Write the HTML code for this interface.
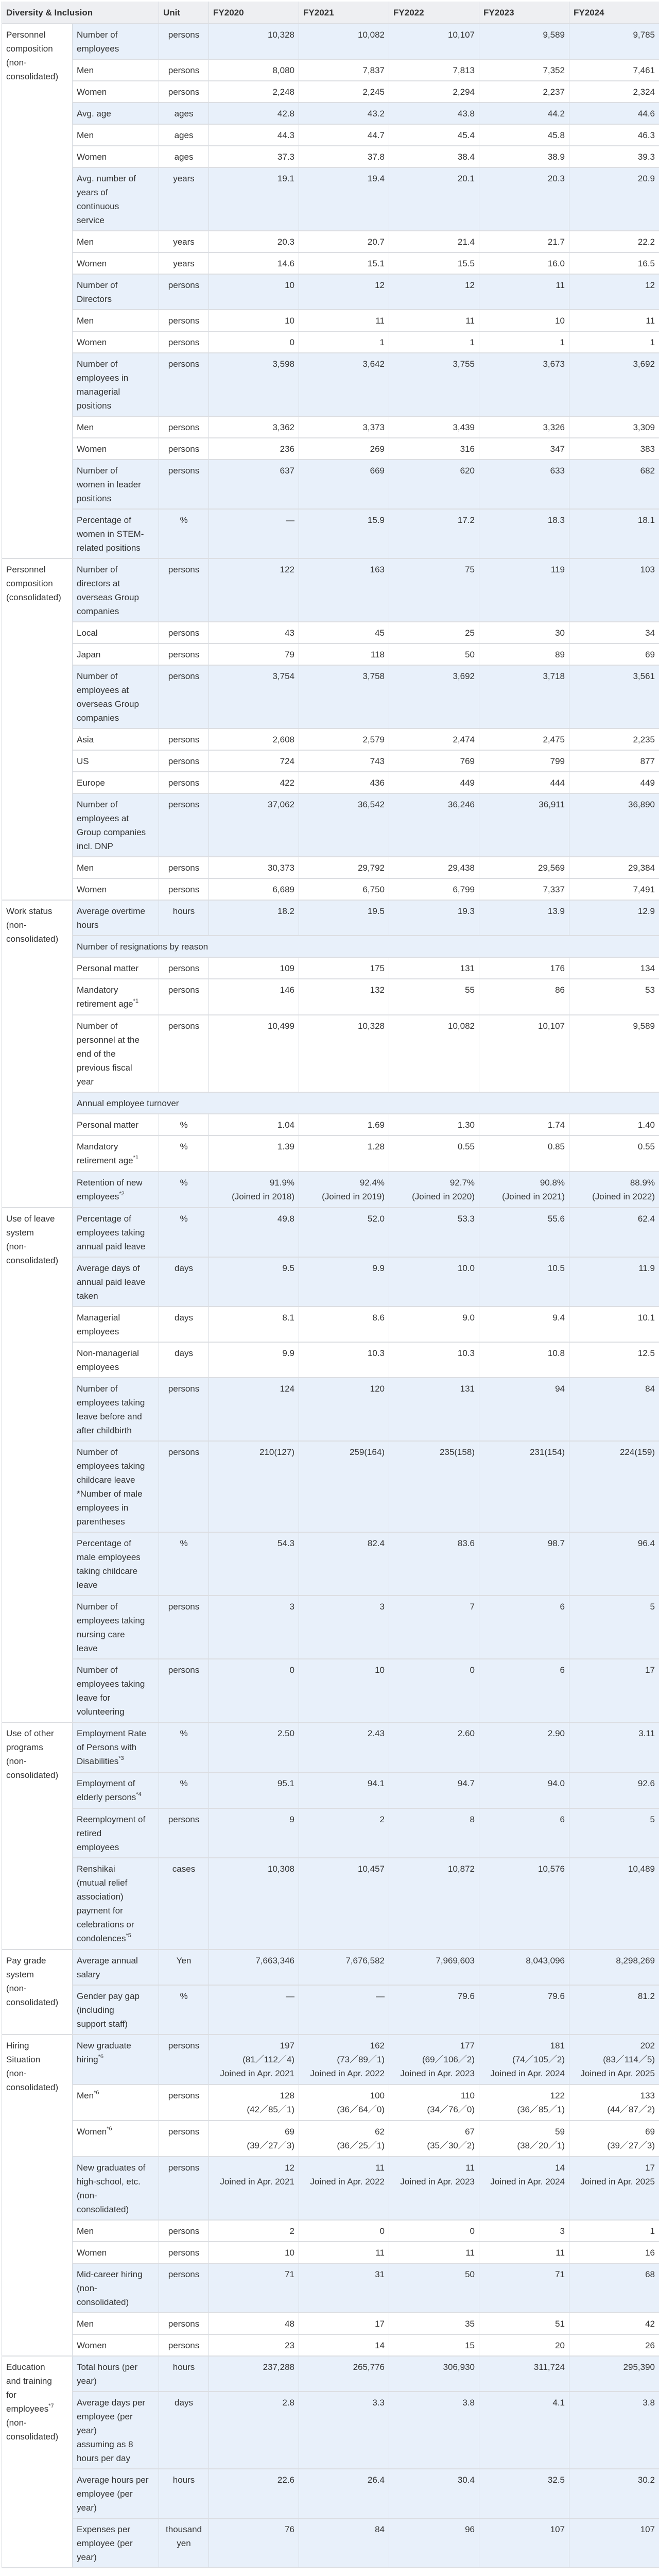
<!DOCTYPE html>
<html><head><meta charset="utf-8"><title>Diversity &amp; Inclusion</title>
<style>
html,body{margin:0;padding:0;background:#fff;}
body{width:1280px;height:5067px;overflow:hidden;font-family:"Liberation Sans Narrow","Liberation Sans",sans-serif;color:#333;}
table{position:absolute;left:3px;top:3px;border-collapse:collapse;table-layout:fixed;width:1277px;font-size:17px;}
td,th{line-height:27px;height:27px;padding:7px 8px 6px 8px;vertical-align:top;border-left:1px solid #d3d8de;border-right:1px solid #d3d8de;border-bottom:2px solid #dcdee2;white-space:nowrap;overflow:hidden;box-sizing:content-box;}
th{background:#eeeff2;text-align:left;font-weight:bold;padding:8px 8px 7px 8px;}
td.c{background:#fff;}
td.u{text-align:center;}
td.v{text-align:right;}
tr.b td{background:#e8f0fa;}
tr.b td.c{background:#fff;}
tr.s td{padding-bottom:7px;}
tr.s td.c{padding-bottom:6px;}
sup{font-size:11px;line-height:0;vertical-align:baseline;position:relative;top:-8px;}
</style></head><body>
<table>
<colgroup><col style="width:137px"><col style="width:168px"><col style="width:97px"><col style="width:175px"><col style="width:175px"><col style="width:175px"><col style="width:175px"><col style="width:175px"></colgroup>
<thead><tr><th colspan="2">Diversity &amp; Inclusion</th><th>Unit</th><th>FY2020</th><th>FY2021</th><th>FY2022</th><th>FY2023</th><th>FY2024</th></tr></thead>
<tbody>
<tr class="b"><td class="c" rowspan="17">Personnel<br>composition<br>(non-<br>consolidated)</td><td>Number of<br>employees</td><td class="u">persons</td><td class="v">10,328</td><td class="v">10,082</td><td class="v">10,107</td><td class="v">9,589</td><td class="v">9,785</td></tr>
<tr><td>Men</td><td class="u">persons</td><td class="v">8,080</td><td class="v">7,837</td><td class="v">7,813</td><td class="v">7,352</td><td class="v">7,461</td></tr>
<tr><td>Women</td><td class="u">persons</td><td class="v">2,248</td><td class="v">2,245</td><td class="v">2,294</td><td class="v">2,237</td><td class="v">2,324</td></tr>
<tr class="b"><td>Avg. age</td><td class="u">ages</td><td class="v">42.8</td><td class="v">43.2</td><td class="v">43.8</td><td class="v">44.2</td><td class="v">44.6</td></tr>
<tr><td>Men</td><td class="u">ages</td><td class="v">44.3</td><td class="v">44.7</td><td class="v">45.4</td><td class="v">45.8</td><td class="v">46.3</td></tr>
<tr><td>Women</td><td class="u">ages</td><td class="v">37.3</td><td class="v">37.8</td><td class="v">38.4</td><td class="v">38.9</td><td class="v">39.3</td></tr>
<tr class="b"><td>Avg. number of<br>years of<br>continuous<br>service</td><td class="u">years</td><td class="v">19.1</td><td class="v">19.4</td><td class="v">20.1</td><td class="v">20.3</td><td class="v">20.9</td></tr>
<tr><td>Men</td><td class="u">years</td><td class="v">20.3</td><td class="v">20.7</td><td class="v">21.4</td><td class="v">21.7</td><td class="v">22.2</td></tr>
<tr><td>Women</td><td class="u">years</td><td class="v">14.6</td><td class="v">15.1</td><td class="v">15.5</td><td class="v">16.0</td><td class="v">16.5</td></tr>
<tr class="b"><td>Number of<br>Directors</td><td class="u">persons</td><td class="v">10</td><td class="v">12</td><td class="v">12</td><td class="v">11</td><td class="v">12</td></tr>
<tr><td>Men</td><td class="u">persons</td><td class="v">10</td><td class="v">11</td><td class="v">11</td><td class="v">10</td><td class="v">11</td></tr>
<tr><td>Women</td><td class="u">persons</td><td class="v">0</td><td class="v">1</td><td class="v">1</td><td class="v">1</td><td class="v">1</td></tr>
<tr class="b"><td>Number of<br>employees in<br>managerial<br>positions</td><td class="u">persons</td><td class="v">3,598</td><td class="v">3,642</td><td class="v">3,755</td><td class="v">3,673</td><td class="v">3,692</td></tr>
<tr><td>Men</td><td class="u">persons</td><td class="v">3,362</td><td class="v">3,373</td><td class="v">3,439</td><td class="v">3,326</td><td class="v">3,309</td></tr>
<tr><td>Women</td><td class="u">persons</td><td class="v">236</td><td class="v">269</td><td class="v">316</td><td class="v">347</td><td class="v">383</td></tr>
<tr class="b"><td>Number of<br>women in leader<br>positions</td><td class="u">persons</td><td class="v">637</td><td class="v">669</td><td class="v">620</td><td class="v">633</td><td class="v">682</td></tr>
<tr class="b"><td>Percentage of<br>women in STEM-<br>related positions</td><td class="u">%</td><td class="v">—</td><td class="v">15.9</td><td class="v">17.2</td><td class="v">18.3</td><td class="v">18.1</td></tr>

<tr class="b"><td class="c" rowspan="10">Personnel<br>composition<br>(consolidated)</td><td>Number of<br>directors at<br>overseas Group<br>companies</td><td class="u">persons</td><td class="v">122</td><td class="v">163</td><td class="v">75</td><td class="v">119</td><td class="v">103</td></tr>
<tr><td>Local</td><td class="u">persons</td><td class="v">43</td><td class="v">45</td><td class="v">25</td><td class="v">30</td><td class="v">34</td></tr>
<tr><td>Japan</td><td class="u">persons</td><td class="v">79</td><td class="v">118</td><td class="v">50</td><td class="v">89</td><td class="v">69</td></tr>
<tr class="b"><td>Number of<br>employees at<br>overseas Group<br>companies</td><td class="u">persons</td><td class="v">3,754</td><td class="v">3,758</td><td class="v">3,692</td><td class="v">3,718</td><td class="v">3,561</td></tr>
<tr><td>Asia</td><td class="u">persons</td><td class="v">2,608</td><td class="v">2,579</td><td class="v">2,474</td><td class="v">2,475</td><td class="v">2,235</td></tr>
<tr><td>US</td><td class="u">persons</td><td class="v">724</td><td class="v">743</td><td class="v">769</td><td class="v">799</td><td class="v">877</td></tr>
<tr><td>Europe</td><td class="u">persons</td><td class="v">422</td><td class="v">436</td><td class="v">449</td><td class="v">444</td><td class="v">449</td></tr>
<tr class="b"><td>Number of<br>employees at<br>Group companies<br>incl. DNP</td><td class="u">persons</td><td class="v">37,062</td><td class="v">36,542</td><td class="v">36,246</td><td class="v">36,911</td><td class="v">36,890</td></tr>
<tr><td>Men</td><td class="u">persons</td><td class="v">30,373</td><td class="v">29,792</td><td class="v">29,438</td><td class="v">29,569</td><td class="v">29,384</td></tr>
<tr><td>Women</td><td class="u">persons</td><td class="v">6,689</td><td class="v">6,750</td><td class="v">6,799</td><td class="v">7,337</td><td class="v">7,491</td></tr>

<tr class="b"><td class="c" rowspan="9">Work status<br>(non-<br>consolidated)</td><td>Average overtime<br>hours</td><td class="u">hours</td><td class="v">18.2</td><td class="v">19.5</td><td class="v">19.3</td><td class="v">13.9</td><td class="v">12.9</td></tr>
<tr class="b"><td colspan="7">Number of resignations by reason</td></tr>
<tr><td>Personal matter</td><td class="u">persons</td><td class="v">109</td><td class="v">175</td><td class="v">131</td><td class="v">176</td><td class="v">134</td></tr>
<tr class="s"><td>Mandatory<br>retirement age<sup>*1</sup></td><td class="u">persons</td><td class="v">146</td><td class="v">132</td><td class="v">55</td><td class="v">86</td><td class="v">53</td></tr>
<tr><td>Number of<br>personnel at the<br>end of the<br>previous fiscal<br>year</td><td class="u">persons</td><td class="v">10,499</td><td class="v">10,328</td><td class="v">10,082</td><td class="v">10,107</td><td class="v">9,589</td></tr>
<tr class="b"><td colspan="7">Annual employee turnover</td></tr>
<tr><td>Personal matter</td><td class="u">%</td><td class="v">1.04</td><td class="v">1.69</td><td class="v">1.30</td><td class="v">1.74</td><td class="v">1.40</td></tr>
<tr class="s"><td>Mandatory<br>retirement age<sup>*1</sup></td><td class="u">%</td><td class="v">1.39</td><td class="v">1.28</td><td class="v">0.55</td><td class="v">0.85</td><td class="v">0.55</td></tr>
<tr class="b s"><td>Retention of new<br>employees<sup>*2</sup></td><td class="u">%</td><td class="v">91.9%<br>(Joined in 2018)</td><td class="v">92.4%<br>(Joined in 2019)</td><td class="v">92.7%<br>(Joined in 2020)</td><td class="v">90.8%<br>(Joined in 2021)</td><td class="v">88.9%<br>(Joined in 2022)</td></tr>

<tr class="b"><td class="c" rowspan="9">Use of leave<br>system<br>(non-<br>consolidated)</td><td>Percentage of<br>employees taking<br>annual paid leave</td><td class="u">%</td><td class="v">49.8</td><td class="v">52.0</td><td class="v">53.3</td><td class="v">55.6</td><td class="v">62.4</td></tr>
<tr class="b"><td>Average days of<br>annual paid leave<br>taken</td><td class="u">days</td><td class="v">9.5</td><td class="v">9.9</td><td class="v">10.0</td><td class="v">10.5</td><td class="v">11.9</td></tr>
<tr><td>Managerial<br>employees</td><td class="u">days</td><td class="v">8.1</td><td class="v">8.6</td><td class="v">9.0</td><td class="v">9.4</td><td class="v">10.1</td></tr>
<tr><td>Non-managerial<br>employees</td><td class="u">days</td><td class="v">9.9</td><td class="v">10.3</td><td class="v">10.3</td><td class="v">10.8</td><td class="v">12.5</td></tr>
<tr class="b"><td>Number of<br>employees taking<br>leave before and<br>after childbirth</td><td class="u">persons</td><td class="v">124</td><td class="v">120</td><td class="v">131</td><td class="v">94</td><td class="v">84</td></tr>
<tr class="b"><td>Number of<br>employees taking<br>childcare leave<br>*Number of male<br>employees in<br>parentheses</td><td class="u">persons</td><td class="v">210(127)</td><td class="v">259(164)</td><td class="v">235(158)</td><td class="v">231(154)</td><td class="v">224(159)</td></tr>
<tr class="b"><td>Percentage of<br>male employees<br>taking childcare<br>leave</td><td class="u">%</td><td class="v">54.3</td><td class="v">82.4</td><td class="v">83.6</td><td class="v">98.7</td><td class="v">96.4</td></tr>
<tr class="b"><td>Number of<br>employees taking<br>nursing care<br>leave</td><td class="u">persons</td><td class="v">3</td><td class="v">3</td><td class="v">7</td><td class="v">6</td><td class="v">5</td></tr>
<tr class="b"><td>Number of<br>employees taking<br>leave for<br>volunteering</td><td class="u">persons</td><td class="v">0</td><td class="v">10</td><td class="v">0</td><td class="v">6</td><td class="v">17</td></tr>

<tr class="b s"><td class="c" rowspan="4">Use of other<br>programs<br>(non-<br>consolidated)</td><td>Employment Rate<br>of Persons with<br>Disabilities<sup>*3</sup></td><td class="u">%</td><td class="v">2.50</td><td class="v">2.43</td><td class="v">2.60</td><td class="v">2.90</td><td class="v">3.11</td></tr>
<tr class="b s"><td>Employment of<br>elderly persons<sup>*4</sup></td><td class="u">%</td><td class="v">95.1</td><td class="v">94.1</td><td class="v">94.7</td><td class="v">94.0</td><td class="v">92.6</td></tr>
<tr class="b"><td>Reemployment of<br>retired<br>employees</td><td class="u">persons</td><td class="v">9</td><td class="v">2</td><td class="v">8</td><td class="v">6</td><td class="v">5</td></tr>
<tr class="b s"><td>Renshikai<br>(mutual relief<br>association)<br>payment for<br>celebrations or<br>condolences<sup>*5</sup></td><td class="u">cases</td><td class="v">10,308</td><td class="v">10,457</td><td class="v">10,872</td><td class="v">10,576</td><td class="v">10,489</td></tr>

<tr class="b"><td class="c" rowspan="2">Pay grade<br>system<br>(non-<br>consolidated)</td><td>Average annual<br>salary</td><td class="u">Yen</td><td class="v">7,663,346</td><td class="v">7,676,582</td><td class="v">7,969,603</td><td class="v">8,043,096</td><td class="v">8,298,269</td></tr>
<tr class="b"><td>Gender pay gap<br>(including<br>support staff)</td><td class="u">%</td><td class="v">—</td><td class="v">—</td><td class="v">79.6</td><td class="v">79.6</td><td class="v">81.2</td></tr>

<tr class="b s"><td class="c" rowspan="9">Hiring<br>Situation<br>(non-<br>consolidated)</td><td>New graduate<br>hiring<sup>*6</sup></td><td class="u">persons</td><td class="v">197<br>(81／112／4)<br>Joined in Apr. 2021</td><td class="v">162<br>(73／89／1)<br>Joined in Apr. 2022</td><td class="v">177<br>(69／106／2)<br>Joined in Apr. 2023</td><td class="v">181<br>(74／105／2)<br>Joined in Apr. 2024</td><td class="v">202<br>(83／114／5)<br>Joined in Apr. 2025</td></tr>
<tr class="s"><td>Men<sup>*6</sup></td><td class="u">persons</td><td class="v">128<br>(42／85／1)</td><td class="v">100<br>(36／64／0)</td><td class="v">110<br>(34／76／0)</td><td class="v">122<br>(36／85／1)</td><td class="v">133<br>(44／87／2)</td></tr>
<tr class="s"><td>Women<sup>*6</sup></td><td class="u">persons</td><td class="v">69<br>(39／27／3)</td><td class="v">62<br>(36／25／1)</td><td class="v">67<br>(35／30／2)</td><td class="v">59<br>(38／20／1)</td><td class="v">69<br>(39／27／3)</td></tr>
<tr class="b"><td>New graduates of<br>high-school, etc.<br>(non-<br>consolidated)</td><td class="u">persons</td><td class="v">12<br>Joined in Apr. 2021</td><td class="v">11<br>Joined in Apr. 2022</td><td class="v">11<br>Joined in Apr. 2023</td><td class="v">14<br>Joined in Apr. 2024</td><td class="v">17<br>Joined in Apr. 2025</td></tr>
<tr><td>Men</td><td class="u">persons</td><td class="v">2</td><td class="v">0</td><td class="v">0</td><td class="v">3</td><td class="v">1</td></tr>
<tr><td>Women</td><td class="u">persons</td><td class="v">10</td><td class="v">11</td><td class="v">11</td><td class="v">11</td><td class="v">16</td></tr>
<tr class="b"><td>Mid-career hiring<br>(non-<br>consolidated)</td><td class="u">persons</td><td class="v">71</td><td class="v">31</td><td class="v">50</td><td class="v">71</td><td class="v">68</td></tr>
<tr><td>Men</td><td class="u">persons</td><td class="v">48</td><td class="v">17</td><td class="v">35</td><td class="v">51</td><td class="v">42</td></tr>
<tr><td>Women</td><td class="u">persons</td><td class="v">23</td><td class="v">14</td><td class="v">15</td><td class="v">20</td><td class="v">26</td></tr>

<tr class="b"><td class="c" rowspan="4">Education<br>and training<br>for<br>employees<sup>*7</sup><br>(non-<br>consolidated)</td><td>Total hours (per<br>year)</td><td class="u">hours</td><td class="v">237,288</td><td class="v">265,776</td><td class="v">306,930</td><td class="v">311,724</td><td class="v">295,390</td></tr>
<tr class="b"><td>Average days per<br>employee (per<br>year)<br>assuming as 8<br>hours per day</td><td class="u">days</td><td class="v">2.8</td><td class="v">3.3</td><td class="v">3.8</td><td class="v">4.1</td><td class="v">3.8</td></tr>
<tr class="b"><td>Average hours per<br>employee (per<br>year)</td><td class="u">hours</td><td class="v">22.6</td><td class="v">26.4</td><td class="v">30.4</td><td class="v">32.5</td><td class="v">30.2</td></tr>
<tr class="b"><td>Expenses per<br>employee (per<br>year)</td><td class="u">thousand<br>yen</td><td class="v">76</td><td class="v">84</td><td class="v">96</td><td class="v">107</td><td class="v">107</td></tr>
</tbody></table>
</body></html>
